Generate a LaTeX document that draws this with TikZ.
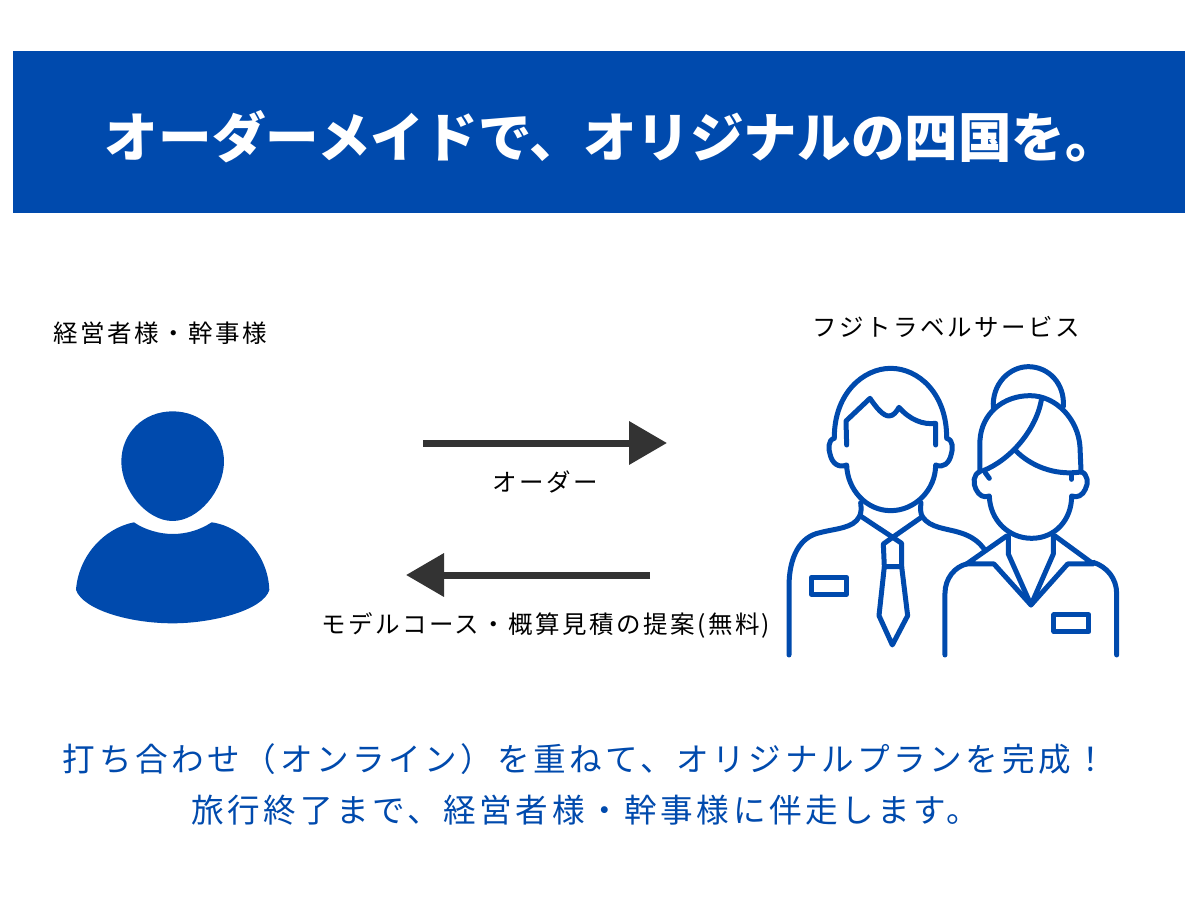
\documentclass[tikz,border=0pt]{standalone}
\usepackage{fontspec}
\usetikzlibrary{arrows.meta}
\newfontfamily\jpfont{Noto Sans CJK JP}
\newfontfamily\jplabel[LetterSpace=10]{Noto Sans CJK JP}
\newfontfamily\jpnote[LetterSpace=11]{Noto Sans CJK JP}
\definecolor{brandblue}{HTML}{004AAD}
\definecolor{arrowgray}{HTML}{333333}
\tikzset{
    titletext/.style={text=white, inner sep=0pt, font=\jpfont\bfseries\fontsize{53.6}{60}\selectfont},
    labeltext/.style={text=black, inner sep=0pt, font=\jplabel\fontsize{24.5}{30}\selectfont},
    notetext/.style={text=brandblue, inner sep=0pt, font=\jpnote\fontsize{32.6}{40}\selectfont},
    bigarrow/.style={draw=arrowgray, line width=7pt, -{Triangle[length=38pt, width=42pt]}},
    iconline/.style={draw=brandblue, line width=5pt, line cap=round, line join=round},
}

\begin{document}
\begin{tikzpicture}[x=1pt, y=-1pt]
    \useasboundingbox (0, 0) rectangle (1185, 912);
    \fill[white] (0, 0) rectangle (1185, 912);

    \node[fill=brandblue, inner sep=0pt, minimum width=1172pt, minimum height=162pt, anchor=north west] (banner) at (13, 51) {};
    \node[titletext] (title) at (612, 137) {オーダーメイドで、オリジナルの四国を。};

    \node[labeltext] (client) at (160.5, 333) {経営者様・幹事様};
    \node[labeltext] (agency) at (946, 327) {フジトラベルサービス};

    \coordinate (orderstart) at (423, 443);
    \coordinate (orderend) at (667, 443);
    \coordinate (planstart) at (650, 575);
    \coordinate (planend) at (406, 575);
    \draw[bigarrow] (orderstart) -- (orderend);
    \draw[bigarrow] (planstart) -- (planend);
    \node[labeltext] (order) at (545, 482) {オーダー};
    \node[labeltext] (plan) at (546, 625) {モデルコース・概算見積の提案(無料)};

    \node[notetext] (noteone) at (585, 759) {打ち合わせ（オンライン）を重ねて、オリジナルプランを完成！};
    \node[notetext] (notetwo) at (585.5, 810) {旅行終了まで、経営者様・幹事様に伴走します。};

    % customer icon
    \begin{scope}[shift={(50, 390)}, x=0.3333pt, y=-0.3333pt]
        \fill[brandblue] (368, 64) .. controls (280, 64) and (214, 130) .. (214, 215)
            .. controls (214, 300) and (290, 393) .. (368, 393)
            .. controls (446, 393) and (522, 300) .. (522, 215)
            .. controls (522, 130) and (456, 64) .. (368, 64) -- cycle;
        \fill[brandblue] (252, 397) .. controls (285, 420) and (330, 432) .. (368, 432)
            .. controls (410, 432) and (450, 420) .. (485, 397)
            .. controls (580, 410) and (655, 500) .. (658, 600)
            .. controls (640, 660) and (490, 700) .. (368, 700)
            .. controls (240, 700) and (100, 660) .. (78, 600)
            .. controls (85, 500) and (160, 415) .. (252, 397) -- cycle;
    \end{scope}

    % staff icon, man
    \begin{scope}[shift={(770, 350)}, x=0.3333pt, y=-0.3333pt]
        \draw[iconline] (193, 262) .. controls (193, 130) and (280, 55) .. (362, 55)
            .. controls (445, 55) and (530, 130) .. (530, 262);
        \draw[iconline] (230, 285) -- (228, 213) -- (300, 145)
            .. controls (320, 175) and (340, 198) .. (357, 198)
            .. controls (370, 198) and (380, 185) .. (387, 172)
            .. controls (420, 210) and (460, 225) .. (497, 220) -- (497, 285);
        \draw[iconline] (193, 265) .. controls (172, 270) and (176, 300) .. (180, 312)
            .. controls (186, 340) and (205, 355) .. (230, 345)
            .. controls (232, 420) and (290, 482) .. (362, 482)
            .. controls (435, 482) and (497, 420) .. (497, 345)
            .. controls (520, 355) and (538, 340) .. (544, 312)
            .. controls (548, 300) and (552, 270) .. (530, 265);
        \draw[iconline] (272, 458) .. controls (274, 475) and (274, 490) .. (268, 500)
            .. controls (250, 535) and (200, 535) .. (150, 548)
            .. controls (90, 560) and (57, 620) .. (57, 710) -- (57, 915);
        \draw[iconline] (453, 458) .. controls (451, 475) and (451, 490) .. (457, 500)
            .. controls (480, 535) and (530, 535) .. (570, 548)
            .. controls (610, 560) and (630, 580) .. (643, 598);
        \draw[iconline] (270, 497) -- (368, 562) -- (457, 500);
        \draw[iconline] (368, 562) -- (340, 582) -- (343, 650) -- (395, 650) -- (395, 580) -- cycle;
        \draw[iconline] (343, 650) -- (327, 797) -- (367, 885) -- (413, 797) -- (395, 650);
        \draw[iconline] (124, 682) rectangle (230, 733);

        % staff icon, woman
        \draw[iconline] (670, 175) .. controls (665, 100) and (720, 50) .. (775, 50)
            .. controls (835, 50) and (885, 100) .. (880, 170);
        \draw[iconline] (630, 362) -- (630, 270) .. controls (635, 190) and (700, 137) .. (780, 137)
            .. controls (860, 137) and (925, 210) .. (930, 290) -- (933, 360);
        \draw[iconline] (640, 362) .. controls (720, 330) and (800, 240) .. (815, 145);
        \draw[iconline] (738, 303) .. controls (780, 345) and (850, 378) .. (933, 366);
        \draw[iconline] (645, 367) -- (658, 385);
        \draw[iconline] (905, 372) -- (905, 388);
        \draw[iconline] (630, 365) .. controls (610, 372) and (608, 400) .. (618, 418)
            .. controls (626, 436) and (642, 445) .. (658, 438)
            .. controls (660, 510) and (715, 565) .. (785, 565)
            .. controls (855, 565) and (905, 510) .. (905, 438)
            .. controls (922, 445) and (938, 436) .. (946, 418)
            .. controls (956, 400) and (954, 372) .. (933, 365);
        \draw[iconline] (715, 558) -- (715, 612) -- (783, 765) -- (850, 612) -- (850, 558);
        \draw[iconline] (710, 558) -- (590, 642) -- (672, 642) -- (783, 765) -- (893, 642) -- (970, 642) -- (855, 558);
        \draw[iconline] (525, 915) -- (525, 730) .. controls (525, 685) and (555, 650) .. (590, 642);
        \draw[iconline] (970, 637) .. controls (1010, 650) and (1040, 685) .. (1040, 730) -- (1040, 915);
        \draw[iconline] (852, 795) rectangle (957, 845);
    \end{scope}
\end{tikzpicture}
\end{document}
